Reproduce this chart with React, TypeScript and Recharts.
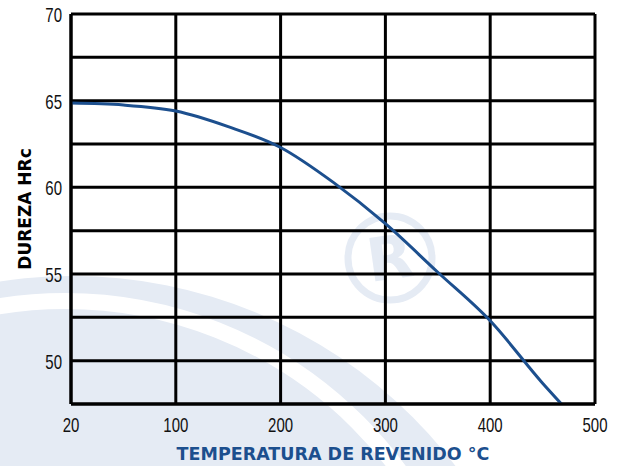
import { LineChart, Line, XAxis, YAxis, CartesianGrid, Label } from "recharts";

// temperature (°C) vs hardness (HRc)
const TEMPS = [20, 60, 100, 150, 200, 250, 300, 350, 400, 450, 468];
const HARDNESS = [64.86, 64.75, 64.4, 63.5, 62.3, 60.3, 57.9, 55.1, 52.3, 48.7, 47.5];

// the grid is uniform: the first column runs 20..100, the others 100 wide
const X_TICKS = [0, 100, 200, 300, 400, 500];
const X_TICK_LABELS = ["20", "100", "200", "300", "400", "500"];
const Y_TICKS = [47.5, 50, 52.5, 55, 57.5, 60, 62.5, 65, 67.5, 70];

const gridPos = (t: number) => (t < 100 ? ((t - 20) * 100) / 80 : t);

const data = TEMPS.map((t, i) => ({ pos: gridPos(t), temp: t, hrc: HARDNESS[i] }));

const BLUE = "#1c4f8e";
const WASH = "#e5ebf4";
const TICK_FONT = '"Liberation Sans", Arial, sans-serif';
const TITLE_FONT = '"DejaVu Sans", sans-serif';

// condensed tick text: squeeze a regular sans horizontally
function XTick({ x, y, payload }: any) {
  const label = X_TICK_LABELS[X_TICKS.indexOf(payload.value)] ?? "";
  return (
    <text
      transform={`translate(${x},${y}) scale(0.75,1)`}
      textAnchor="middle"
      dy="0.71em"
      fontFamily={TICK_FONT}
      fontSize={20}
      fill="#111"
    >
      {label}
    </text>
  );
}

function YTick({ x, y, payload }: any) {
  const v = payload.value as number;
  if (v % 5 !== 0) return null;
  return (
    <text
      transform={`translate(${x},${y}) scale(0.75,1)`}
      textAnchor="end"
      dy="0.4em"
      fontFamily={TICK_FONT}
      fontSize={20}
      fill="#111"
    >
      {String(v)}
    </text>
  );
}

function Watermark() {
  return (
    <svg width={624} height={466} style={{ position: "absolute", left: 0, top: 0 }}>
      <defs>
        <clipPath id="wm">
          <rect x={0} y={0} width={624} height={466} />
        </clipPath>
      </defs>
      <g clipPath="url(#wm)">
        <circle cx={72} cy={758} r={482} fill={WASH} />
        <circle cx={65} cy={715} r={414} fill="none" stroke="#fff" strokeWidth={16} />
      </g>
      <circle cx={390} cy={258} r={42} fill="none" stroke={WASH} strokeWidth={7} />
      <text
        x={390}
        y={258}
        textAnchor="middle"
        dominantBaseline="central"
        fontFamily={TITLE_FONT}
        fontWeight="bold"
        fontSize={60}
        fill={WASH}
        transform="rotate(-8 390 258)"
      >
        R
      </text>
    </svg>
  );
}

export default function App() {
  return (
    <div style={{ position: "absolute", left: 0, top: 0, width: 624, height: 466, background: "#fff" }}>
      <Watermark />
      <div style={{ position: "absolute", left: 0, top: 0 }}>
        <LineChart width={624} height={466} data={data} margin={{ top: 14, right: 29, bottom: 0, left: 0 }}>
          <CartesianGrid stroke="#000" strokeWidth={3} horizontalValues={Y_TICKS} verticalValues={X_TICKS} />
          <XAxis
            type="number"
            dataKey="pos"
            domain={[0, 500]}
            ticks={X_TICKS}
            height={62}
            axisLine={{ stroke: "#000", strokeWidth: 3 }}
            tickLine={false}
            tickMargin={8}
            tick={<XTick />}
            interval={0}
          >
            <Label
              value="TEMPERATURA DE REVENIDO °C"
              position="insideBottom"
              offset={6}
              style={{ fontFamily: TITLE_FONT, fontWeight: "bold", fontSize: 17.5, fill: BLUE }}
            />
          </XAxis>
          <YAxis
            type="number"
            domain={[47.5, 70]}
            ticks={Y_TICKS}
            width={71}
            axisLine={{ stroke: "#000", strokeWidth: 3 }}
            tickLine={false}
            tickMargin={3}
            tick={<YTick />}
            interval={0}
          >
            <Label
              angle={-90}
              position="insideLeft"
              content={({ viewBox }: any) => {
                const cy = viewBox.y + viewBox.height / 2;
                const cx = 25;
                return (
                  <text
                    x={cx}
                    y={cy}
                    transform={`rotate(-90 ${cx} ${cy})`}
                    textAnchor="middle"
                    dominantBaseline="central"
                    fontFamily={TITLE_FONT}
                    fontWeight="bold"
                    fontSize={17}
                    fill="#000"
                  >
                    DUREZA HRc
                  </text>
                );
              }}
            />
          </YAxis>
          <Line
            type="monotone"
            dataKey="hrc"
            stroke={BLUE}
            strokeWidth={3}
            dot={false}
            isAnimationActive={false}
          />
        </LineChart>
      </div>
    </div>
  );
}
